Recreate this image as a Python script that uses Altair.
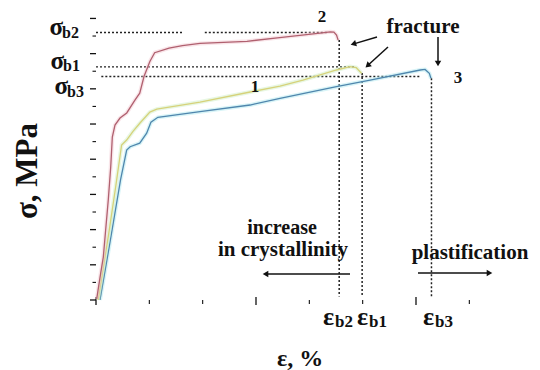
import math
import altair as alt
import pandas as pd

# ---------------- data (x in strain-tick units, y in stress-tick units) ----------------
red_eps = [0.013, 0.088, 0.137, 0.23, 0.276, 0.306, 0.356, 0.45, 0.576, 0.73, 0.82, 0.90, 1.01,
           1.10, 1.37, 1.62, 1.95, 2.83, 3.40, 4.20, 4.39, 4.46, 4.51, 4.54]
red_sig = [0.06, 1.53, 2.44, 5.68, 7.56, 9.26, 9.94, 10.34, 10.63, 11.36, 11.75, 12.70, 13.55,
           14.05, 14.31, 14.45, 14.58, 14.70, 14.90, 15.17, 15.24, 15.22, 15.05, 14.77]

yel_eps = [0.04, 0.24, 0.37, 0.48, 0.575, 0.69, 0.825, 1.01, 1.14, 1.95, 2.89, 3.45, 3.88,
           4.51, 4.76, 4.88, 4.98]
yel_sig = [0.0, 3.8, 6.45, 8.81, 9.09, 9.57, 10.06, 10.68, 10.85, 11.25, 11.82, 12.16, 12.5,
           13.07, 13.26, 13.2, 12.88]

blu_eps = [0.075, 0.27, 0.46, 0.575, 0.64, 0.82, 0.95, 1.03, 1.16, 1.95, 2.89, 3.45, 4.51,
           5.14, 6.08, 6.17, 6.25, 6.28]
blu_sig = [0.0, 3.41, 6.82, 8.52, 8.71, 8.91, 9.48, 10.1, 10.38, 10.7, 11.08, 11.46, 12.12,
           12.5, 13.07, 13.1, 12.88, 12.6]

# guide (dotted) lines
sigma_levels = [15.2, 15.2, 13.25, 12.7]
sigma_start = [0.0, 2.04, 0.0, 0.1]
sigma_end = [1.63, 4.35, 4.86, 6.1]
eps_breaks = [4.56, 4.99, 6.29]
eps_tops = [14.77, 12.9, 12.6]
eps_bottom = 0.2

x_ticks = [0, 1, 2, 3, 4, 5, 6, 7]
x_major = [0, 3, 6]
y_ticks = list(range(0, 17))

X_DOMAIN = [0, 7.5]
Y_DOMAIN = [0, 16.65]

OX, OY = 96, 7          # plot-area origin inside the 540x370 page
W, H = 400, 293
FONT = "Liberation Serif"
INK = "#111111"

xs = alt.Scale(domain=X_DOMAIN, nice=False, zero=False)
ys = alt.Scale(domain=Y_DOMAIN, nice=False, zero=False)
noaxis = None
dummy = alt.Data(values=[{"k": 1}])


def curve(eps, sig, color, halo, halo_op):
    df = pd.DataFrame({"eps": eps, "sig": sig, "i": range(len(eps))})
    base = alt.Chart(df).encode(
        x=alt.X("eps:Q", scale=xs, axis=noaxis),
        y=alt.Y("sig:Q", scale=ys, axis=noaxis),
        order="i:Q",
    )
    return [base.mark_line(color=halo, strokeWidth=4, opacity=halo_op),
            base.mark_line(color=color, strokeWidth=1.3)]


def txt(s, px, py, size, align="left", baseline="alphabetic", angle=0, **extra):
    kw = dict(text=s, font=FONT, fontSize=size, fontWeight="bold", color=INK,
              align=align, baseline=baseline, **extra)
    if angle:
        kw["angle"] = angle
    return alt.Chart(dummy).mark_text(**kw).encode(x=alt.value(px - OX), y=alt.value(py - OY))


def arrow(x1, y1, x2, y2, width=1.5, head=42):
    dx, dy = x2 - x1, y2 - y1
    L = math.hypot(dx, dy)
    ux, uy = dx / L, dy / L
    ang = (math.degrees(math.atan2(dx, -dy)) + 360) % 360
    line = alt.Chart(dummy).mark_rule(color=INK, strokeWidth=width).encode(
        x=alt.value(x1 - OX), y=alt.value(y1 - OY),
        x2=alt.value(x2 - ux * 4 - OX), y2=alt.value(y2 - uy * 4 - OY))
    hd = alt.Chart(dummy).mark_point(shape="triangle-up", filled=True, size=head, angle=ang,
                                     color=INK, opacity=1).encode(
        x=alt.value(x2 - ux * 3.5 - OX), y=alt.value(y2 - uy * 3.5 - OY))
    return [line, hd]


layers = []

# axes (domain lines only)
axis_x = alt.Axis(domain=True, ticks=False, labels=False, grid=False, title=None,
                  domainColor=INK, domainWidth=1.6)
axis_y = alt.Axis(domain=True, ticks=False, labels=False, grid=False, title=None,
                  domainColor=INK, domainWidth=1.6)
frame = alt.Chart(pd.DataFrame({"eps": [0], "sig": [0]})).mark_point(opacity=0).encode(
    x=alt.X("eps:Q", scale=xs, axis=axis_x),
    y=alt.Y("sig:Q", scale=ys, axis=axis_y),
)
layers.append(frame)

# tick marks
ytk = pd.DataFrame({"sig": y_ticks, "major": [t % 2 == 0 for t in y_ticks]})
layers.append(alt.Chart(ytk[ytk.major]).mark_rule(color=INK, strokeWidth=1.3).encode(
    y=alt.Y("sig:Q", scale=ys, axis=noaxis), x=alt.value(-6), x2=alt.value(0)))
layers.append(alt.Chart(ytk[~ytk.major]).mark_rule(color=INK, strokeWidth=1.1).encode(
    y=alt.Y("sig:Q", scale=ys, axis=noaxis), x=alt.value(-3.5), x2=alt.value(0)))
xtk = pd.DataFrame({"eps": x_ticks, "major": [t in x_major for t in x_ticks]})
layers.append(alt.Chart(xtk[xtk.major]).mark_rule(color=INK, strokeWidth=1.3).encode(
    x=alt.X("eps:Q", scale=xs, axis=noaxis), y=alt.value(H - 3), y2=alt.value(H + 5)))
layers.append(alt.Chart(xtk[~xtk.major]).mark_rule(color=INK, strokeWidth=1.1).encode(
    x=alt.X("eps:Q", scale=xs, axis=noaxis), y=alt.value(H), y2=alt.value(H + 4)))

# dotted guides
hd = pd.DataFrame({"s": sigma_levels, "a": sigma_start, "b": sigma_end})
layers.append(alt.Chart(hd).mark_rule(color="#222222", strokeWidth=1.3, strokeDash=[2, 2]).encode(
    y=alt.Y("s:Q", scale=ys, axis=noaxis),
    x=alt.X("a:Q", scale=xs, axis=noaxis), x2="b:Q"))
vd = pd.DataFrame({"e": eps_breaks, "t": eps_tops, "b": [eps_bottom] * len(eps_breaks)})
layers.append(alt.Chart(vd).mark_rule(color="#222222", strokeWidth=1.5, strokeDash=[2, 2]).encode(
    x=alt.X("e:Q", scale=xs, axis=noaxis),
    y=alt.Y("t:Q", scale=ys, axis=noaxis), y2="b:Q"))

# curves
layers += curve(blu_eps, blu_sig, "#4f86ad", "#a8e6ee", 0.45)
layers += curve(yel_eps, yel_sig, "#d6d27a", "#cdeec0", 0.45)
layers += curve(red_eps, red_sig, "#b0606f", "#f2c6ce", 0.45)

# sigma labels
for sub, x, yb, ys_ in [("b2", 62, 35, 38), ("b1", 63, 69, 71), ("b3", 67, 94, 97)]:
    layers.append(txt("σ", x + 1, yb, 25, align="right"))
    layers.append(txt(sub, x, ys_, 16))

# epsilon labels
for sub, x in [("b2", 323), ("b1", 357), ("b3", 423)]:
    layers.append(txt("ε", x, 325, 26))
    layers.append(txt(sub, x + 12, 327, 17))

# axis titles
layers.append(txt("σ, MPa", 28, 171, 31, align="center", baseline="middle", angle=270))
layers.append(txt("ε, %", 300, 366, 24, align="center"))

# curve numbers and annotations
layers.append(txt("2", 322, 22, 17, align="center"))
layers.append(txt("1", 255, 92, 17, align="center"))
layers.append(txt("3", 458, 83, 17, align="center"))
layers.append(txt("fracture", 423, 33, 21, align="center"))
layers.append(txt("increase", 282, 234, 20, align="center"))
layers.append(txt("in crystallinity", 283, 256, 21, align="center"))
layers.append(txt("plastification", 470, 259, 21, align="center"))

# arrows
layers += arrow(377, 37, 350, 45)
layers += arrow(388, 47, 365, 68)
layers += arrow(438, 37, 438, 67)
layers += arrow(350, 274, 262, 274)
layers += arrow(418, 273, 493, 273)

chart = alt.layer(*layers).properties(
    width=W, height=H,
    autosize=alt.AutoSizeParams(type="none"),
    padding={"left": OX, "top": OY, "right": 540 - OX - W, "bottom": 370 - OY - H},
    background="white",
).configure_view(stroke=None)

chart.save("out.html", embed_options={"renderer": "svg", "actions": False})
